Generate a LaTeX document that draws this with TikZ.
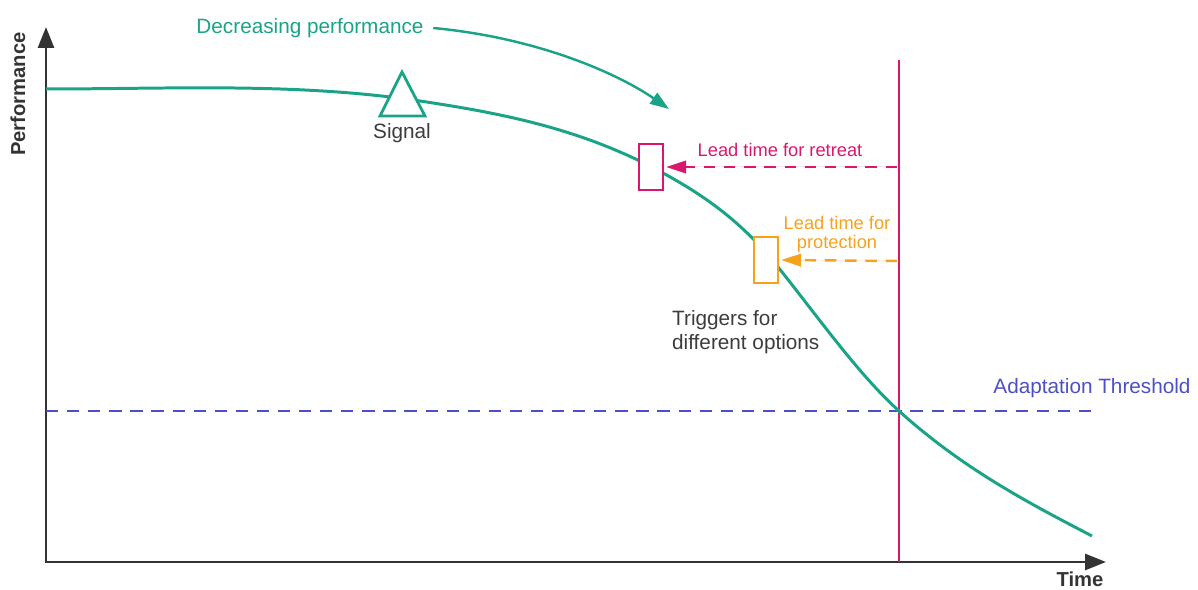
\documentclass[tikz,border=0pt]{standalone}
\usepackage{fontspec}
\setmainfont{Liberation Sans}
\usetikzlibrary{arrows.meta, positioning}
\definecolor{cteal}{HTML}{1BA388}
\definecolor{cmagenta}{HTML}{D9176C}
\definecolor{corange}{HTML}{F7A21B}
\definecolor{cblue}{HTML}{4C50C4}
\definecolor{caxis}{HTML}{333333}
\definecolor{ctext}{HTML}{3C3C3C}

\begin{document}
\begin{tikzpicture}[
  x=0.02cm, y=-0.02cm,
  axis/.style={{Triangle[length=4.2mm, width=3.2mm]}-{Triangle[length=4.2mm, width=3.2mm]},
    draw=caxis, line width=1.6pt, line join=miter},
  axislabel/.style={text=caxis, inner sep=1pt, font=\fontsize{11.5}{13}\selectfont\bfseries},
  perfcurve/.style={draw=cteal, line width=1.7pt},
  trend/.style={-{Triangle[length=3.8mm, width=2.6mm]}, draw=cteal, line width=1.4pt},
  trigger/.style={rectangle, fill=white, line width=1.6pt,
    minimum width=0.48cm, minimum height=0.92cm, inner sep=0pt},
  lead/.style={-{Triangle[length=4mm, width=2.5mm]}, line width=1.4pt,
    dash pattern=on 6.5pt off 5pt, shorten >=1pt},
  threshold/.style={draw=cblue, line width=1.4pt, dash pattern=on 7pt off 5pt},
  mainfont/.style={font=\fontsize{11.8}{13.5}\selectfont},
  smallfont/.style={font=\fontsize{10.4}{10.6}\selectfont}
]
\useasboundingbox (0,0) rectangle (1198,590);

% ============================================================
% Axes and their labels
\coordinate (origin) at (46,562);
\coordinate (ytip) at (46,27);
\coordinate (xtip) at (1106,562);
\draw[axis] (ytip) -- (origin) -- (xtip);
\node[axislabel, rotate=90] (perf) at (18,94) {Performance};
\node[axislabel] (time) at (1080,579) {Time};

% ============================================================
% Adaptation threshold and the moment it is reached
\coordinate (thL) at (46,411);
\coordinate (thR) at (1091,411);
\draw[threshold] (thL) -- (thR);
\node[mainfont, text=cblue] (thlabel) at (1092,388) {Adaptation Threshold};

\coordinate (vtop) at (899,60);
\coordinate (vbot) at (899,562);
\draw[draw=cmagenta, line width=1.1pt] (vtop) -- (vbot);

% ============================================================
% Performance over time
\draw[perfcurve] (46,89)
  .. controls (170.7,89) and (295.3,82.3) .. (420,101)
  .. controls (501,113.2) and (582,128.5) .. (663,173)
  .. controls (701.3,194.1) and (739.7,219.1) .. (778,267)
  .. controls (818.3,317.4) and (858.7,374.7) .. (899,411)
  .. controls (963.3,468.9) and (1027.7,502.5) .. (1092,536);

% Signal on the curve
\coordinate (sig) at (402,72);
\draw[draw=cteal, fill=white, line width=1.6pt, line join=miter]
  (sig) -- ++(23,44) -- ++(-45,0) -- cycle;
\node[mainfont, text=ctext] (signal) at (402,133) {Signal};

% Decreasing performance annotation
\node[mainfont, text=cteal] (decr) at (310,28) {Decreasing performance};
\coordinate (drop) at (669,109);
\draw[trend] ([xshift=2pt]decr.east) .. controls (540,38) and (620,75) .. (drop);

% ============================================================
% Triggers and lead times
\node[trigger, draw=cmagenta] (retreat) at (651,167) {};
\node[trigger, draw=corange] (protect) at (766,260) {};

\coordinate (r1) at (897,167);
\coordinate (r2) at (897,261);
\draw[lead, draw=cmagenta, fill=cmagenta] (r1) -- (retreat.east);
\draw[lead, draw=corange, fill=corange] (r2) -- (protect.east);

\node[smallfont, text=cmagenta] (retreatlbl) at (780,150) {Lead time for retreat};
\node[smallfont, text=corange, align=center] (protectlbl) at (837,234)
  {Lead time for\\protection};

\node[mainfont, text=ctext, anchor=west, align=left] (triggers) at (666,332)
  {Triggers for\\different options};

\end{tikzpicture}
\end{document}
